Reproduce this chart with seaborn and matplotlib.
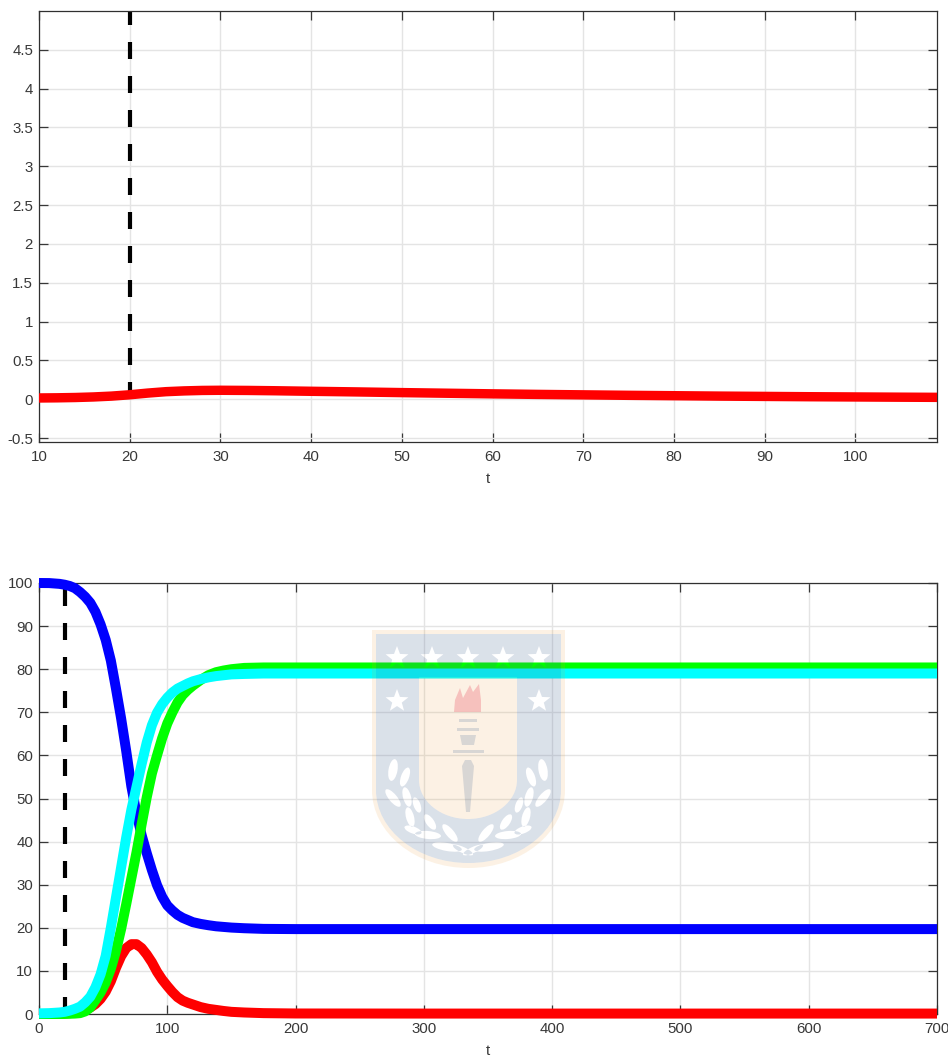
import numpy as np
import pandas as pd
import matplotlib
matplotlib.use("Agg")
import matplotlib.pyplot as plt
from matplotlib.patches import PathPatch
from matplotlib.path import Path
from matplotlib.transforms import Affine2D
import seaborn as sns

# Top panel
top_t = [10, 12, 14, 16, 18, 20, 22, 24, 26, 28, 30, 33, 36, 40, 45, 50, 55, 60, 65, 70, 75, 80, 85, 90, 95, 100, 105, 109]
top_red = [0.017, 0.019, 0.023, 0.030, 0.041, 0.058, 0.080, 0.098, 0.108, 0.114, 0.116, 0.114, 0.110, 0.103, 0.095, 0.086, 0.078, 0.070, 0.063, 0.057, 0.051, 0.046, 0.041, 0.037, 0.033, 0.030, 0.027, 0.025]
top_xticks = [10, 20, 30, 40, 50, 60, 70, 80, 90, 100]
top_yticks = [-0.5, 0, 0.5, 1, 1.5, 2, 2.5, 3, 3.5, 4, 4.5]
top_ylabels = ["-0.5", "0", "0.5", "1", "1.5", "2", "2.5", "3", "3.5", "4", "4.5"]

# Bottom panel
t = [0, 8, 16, 20, 24, 28, 32, 36, 40, 44, 48, 52, 56, 60, 64, 68, 72, 76, 80, 84, 88, 92, 96, 100, 104, 108, 112, 116, 120, 126, 132, 138, 144, 150, 160, 175, 200, 300, 400, 500, 600, 700]
blue = [100, 99.98, 99.8, 99.6, 99.3, 98.8, 97.9, 96.8, 95.4, 93.3, 90.4, 86.8, 82, 75.5, 68.6, 61, 52.8, 46.5, 41.5, 37.3, 33.4, 29.9, 27.2, 25.2, 24, 23, 22.3, 21.8, 21.3, 20.9, 20.6, 20.35, 20.2, 20.05, 19.9, 19.75, 19.7, 19.7, 19.7, 19.7, 19.7, 19.7]
cyan = [0.15, 0.2, 0.35, 0.5, 0.8, 1.2, 1.7, 2.7, 4, 6.2, 9.2, 13.5, 20, 27, 34, 41, 47.4, 52.7, 58, 63, 67, 69.9, 71.9, 73.4, 74.6, 75.5, 76.1, 76.7, 77.2, 77.7, 78.1, 78.4, 78.6, 78.8, 78.9, 79, 79, 79, 79, 79, 79, 79]
green = [0, 0, 0, 0.02, 0.05, 0.1, 0.2, 0.6, 1.5, 3.2, 5, 7.3, 10.5, 14.6, 19.7, 25.5, 31.5, 37.5, 44, 50.3, 55.8, 60, 64, 67.4, 70, 72.3, 74, 75.2, 76.2, 77.5, 78.6, 79.3, 79.7, 80, 80.3, 80.4, 80.4, 80.4, 80.4, 80.4, 80.4, 80.4]
red = [0, 0, 0.02, 0.1, 0.2, 0.35, 0.6, 1, 1.5, 2.3, 3.5, 5.2, 7.6, 10.7, 13.4, 15.3, 16.2, 16.2, 15.3, 13.8, 12, 9.8, 8, 6.5, 5.1, 3.9, 3.1, 2.6, 2.2, 1.6, 1.2, 0.95, 0.7, 0.5, 0.35, 0.2, 0.12, 0.1, 0.1, 0.1, 0.1, 0.1]
bot_xticks = [0, 100, 200, 300, 400, 500, 600, 700]
bot_yticks = [0, 10, 20, 30, 40, 50, 60, 70, 80, 90, 100]

event_t = 20

W, H = 948, 1059
sns.set_theme(style="white", rc={
    "font.family": ["Liberation Sans", "DejaVu Sans"],
    "xtick.bottom": True, "xtick.top": True, "ytick.left": True, "ytick.right": True,
    "xtick.direction": "in", "ytick.direction": "in",
    "xtick.major.size": 6.8, "ytick.major.size": 6.8,
    "xtick.major.width": 0.9, "ytick.major.width": 0.9,
    "xtick.color": "#383838", "ytick.color": "#383838",
})
fig = plt.figure(figsize=(W / 100, H / 100), dpi=100, facecolor="white")


def axes_box(l, t_, r, b):
    return [l / W, 1 - b / H, (r - l) / W, (b - t_) / H]


ax1 = fig.add_axes(axes_box(39, 11, 937, 442))
ax2 = fig.add_axes(axes_box(39, 583, 937, 1014))

# Top panel marks
ax1.plot([event_t, event_t], [0, 5.0], color="black", lw=3.0,
         dashes=(4.08, 4.08), dash_capstyle="butt", zorder=2)
sns.lineplot(x=top_t, y=top_red, ax=ax1, color="#ff0000", lw=6.8, estimator=None,
             sort=False, legend=False, zorder=3)
ax1.lines[-1].set_solid_capstyle("butt")
ax1.set_xlim(10, 109)
ax1.set_ylim(-0.55, 5.0)
ax1.set_xticks(top_xticks)
ax1.set_xticklabels([str(v) for v in top_xticks])
ax1.set_yticks(top_yticks)
ax1.set_yticklabels(top_ylabels)

# Bottom panel marks
ax2.plot([event_t, event_t], [0, 100], color="black", lw=3.0,
         dashes=(4.08, 4.08), dash_capstyle="butt", zorder=2)
series = [(blue, "#0000ff"), (red, "#ff0000"), (green, "#00ff00"), (cyan, "#00ffff")]
for vals, col in series:
    sns.lineplot(x=t, y=vals, ax=ax2, color=col, lw=7.2, estimator=None,
                 sort=False, legend=False, zorder=3)
    ax2.lines[-1].set_clip_on(False)
    ax2.lines[-1].set_solid_capstyle("butt")
ax2.set_xlim(0, 700)
ax2.set_ylim(0, 100)
ax2.set_xticks(bot_xticks)
ax2.set_xticklabels([str(v) for v in bot_xticks])
ax2.set_yticks(bot_yticks)
ax2.set_yticklabels([str(v) for v in bot_yticks])

for ax in (ax1, ax2):
    ax.set_axisbelow(True)
    ax.grid(True, color="#e4e4e4", lw=1.0)
    for s in ax.spines.values():
        s.set_color("#303030")
        s.set_linewidth(0.9)
        s.set_visible(True)
    ax.tick_params(axis="both", labelcolor="#383838", labelsize=10.8)
    ax.tick_params(axis="x", pad=6)
    ax.tick_params(axis="y", pad=4.3)
    ax.set_xlabel("t", fontsize=10.8, color="#383838", labelpad=5.5)
    ax.set_ylabel("")

# Pale university crest laid over the lower panel
wm = fig.add_axes([0, 0, 1, 1], zorder=10)
wm.set_xlim(0, W)
wm.set_ylim(H, 0)
wm.axis("off")
wm.patch.set_visible(False)


def shield(l, r, top, straight, bot):
    cx = (l + r) / 2
    k = 0.55
    hw = (r - l) / 2
    dy = bot - straight
    verts = [(l, top), (r, top), (r, straight),
             (r, straight + k * dy), (cx + k * hw, bot), (cx, bot),
             (cx - k * hw, bot), (l, straight + k * dy), (l, straight), (l, top)]
    codes = [Path.MOVETO, Path.LINETO, Path.LINETO,
             Path.CURVE4, Path.CURVE4, Path.CURVE4,
             Path.CURVE4, Path.CURVE4, Path.CURVE4, Path.CLOSEPOLY]
    return Path(verts, codes).to_polygons(closed_only=True)[0]


def oriented(poly, ccw=True):
    x, y = poly[:, 0], poly[:, 1]
    area = 0.5 * np.sum(x[:-1] * y[1:] - x[1:] * y[:-1])
    return poly if (area > 0) == ccw else poly[::-1]


def star(cx, cy, r):
    p = Path.unit_regular_star(5, 0.42).transformed(Affine2D().scale(r, -r).translate(cx, cy))
    return p.to_polygons(closed_only=True)[0]


def leaf(cx, cy, a, b, angle):
    p = Path.unit_circle().transformed(Affine2D().scale(a, b).rotate_deg(angle).translate(cx, cy))
    return p.to_polygons(closed_only=True)[0]


def compound(outer, holes):
    parts = [Path(oriented(outer, True))] + [Path(oriented(h, False)) for h in holes]
    return Path.make_compound_path(*parts)


outer = shield(372, 565, 630, 790, 868)
blue_field = shield(376, 561, 634, 790, 863)
inner = shield(419, 517, 677, 780, 819)
star_xy = [(397, 658), (432, 658), (468, 658), (503, 658), (539, 658), (397, 701), (539, 701)]
leaf_spec = [(393, 770, 4.5, 11, 10), (405, 777, 4, 10, 20), (393, 798, 4, 11, -40), (407, 797, 4, 10, -15),
             (410, 817, 4, 10, -15), (417, 805, 3.5, 8, -20), (430, 822, 4, 9, -35), (413, 830, 3.5, 9, -70),
             (428, 835, 4, 13, -85), (450, 833, 4, 11, -40), (447, 847, 4, 15, -80), (463, 850, 3, 11, -65)]
mirror_x = 468
leaves = []
for x, y, a, b, ang in leaf_spec:
    leaves.append(leaf(x, y, a, b, ang))
    leaves.append(leaf(2 * mirror_x - x, y, a, b, -ang))
holes = [inner] + [star(x, y, 12) for x, y in star_xy] + leaves

wm.add_patch(PathPatch(compound(outer, [blue_field]), fc="#e89a30", alpha=0.13, ec="none"))
wm.add_patch(PathPatch(compound(blue_field, holes), fc="#4a6a95", alpha=0.2, ec="none"))
wm.add_patch(PathPatch(Path(inner), fc="#e89a30", alpha=0.13, ec="none"))

flame = np.array([(454, 712), (455, 700), (460, 688), (463, 698), (470, 685), (473, 692), (479, 684), (481, 700), (481, 712)], float)
wm.fill(flame[:, 0], flame[:, 1], fc="#e8485a", alpha=0.28, ec="none")
for y0, x0, x1 in [(719, 459, 477), (728, 457, 479), (750, 453, 484)]:
    wm.fill([x0, x1, x1, x0], [y0, y0, y0 + 3, y0 + 3], fc="#4a6a95", alpha=0.2, ec="none")
cup = np.array([(460, 735), (476, 735), (474, 745), (462, 745)], float)
wm.fill(cup[:, 0], cup[:, 1], fc="#4a6a95", alpha=0.2, ec="none")
blade = np.array([(462, 766), (465, 760), (471, 760), (474, 766), (470, 812), (466, 812)], float)
wm.fill(blade[:, 0], blade[:, 1], fc="#4a6a95", alpha=0.2, ec="none")
wm.set_xlim(0, W)
wm.set_ylim(H, 0)

fig.savefig("out.png", dpi=100, facecolor="white")
